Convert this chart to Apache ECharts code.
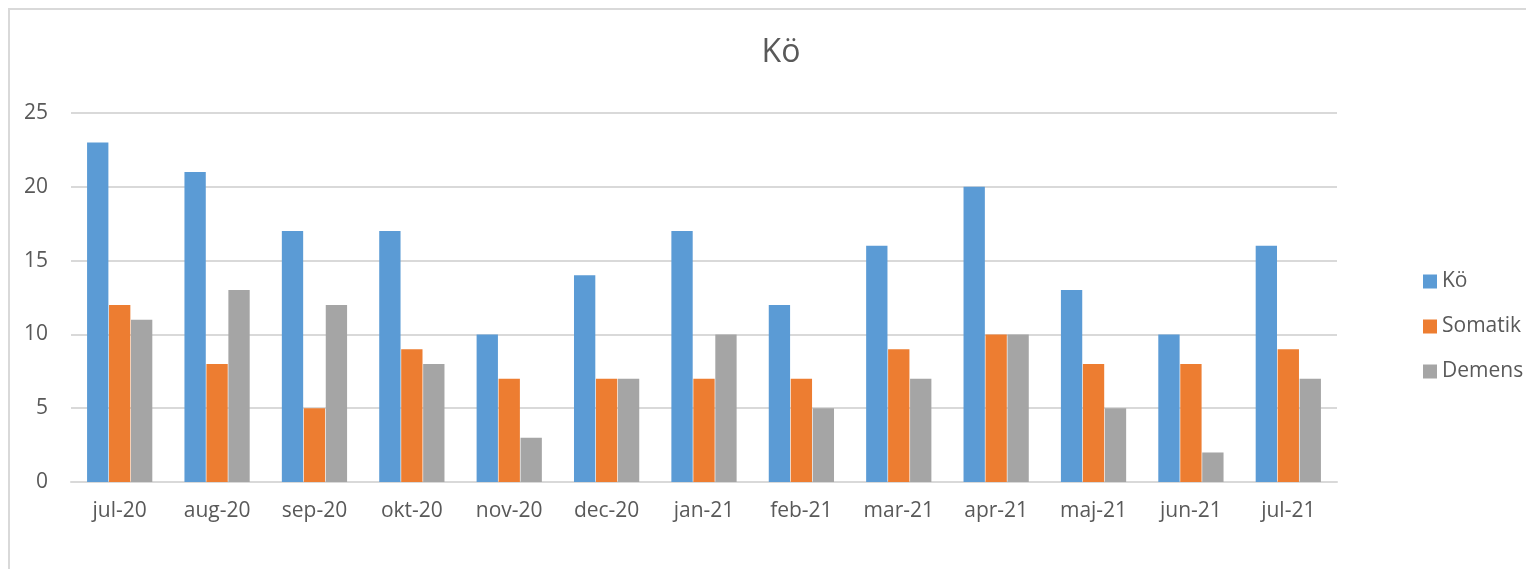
<!DOCTYPE html>
<html>
<head>
<meta charset="utf-8">
<script src="https://cdn.jsdelivr.net/npm/echarts@6/dist/echarts.min.js"></script>
<style>
  html, body { margin: 0; padding: 0; background: #fff; }
  #diagram { width: 1526px; height: 569px; }
</style>
</head>
<body>
<div id="diagram"></div>
<script>
var months = ["jul-20", "aug-20", "sep-20", "okt-20", "nov-20", "dec-20", "jan-21",
  "feb-21", "mar-21", "apr-21", "maj-21", "jun-21", "jul-21"];
var ko = [23, 21, 17, 17, 10, 14, 17, 12, 16, 20, 13, 10, 16];
var somatik = [12, 8, 5, 9, 7, 7, 7, 7, 9, 10, 8, 8, 9];
var demens = [11, 13, 12, 8, 3, 7, 10, 5, 7, 10, 5, 2, 7];

var font = "Open Sans";
var myChart = echarts.init(document.getElementById("diagram"));
var option = {
  color: ["#5B9BD5", "#ED7D31", "#A5A5A5"],
  textStyle: { fontFamily: font },
  graphic: [{
    type: "rect",
    shape: { x: 9, y: 9, width: 1540, height: 580 },
    style: { fill: "none", stroke: "#d9d9d9", lineWidth: 2 }
  }],
  title: {
    text: "Kö",
    left: 776,
    top: 32,
    textAlign: "center",
    textStyle: { fontFamily: font, fontSize: 32, fontWeight: "normal", color: "#595959" }
  },
  legend: {
    orient: "vertical",
    left: 1418,
    top: 266,
    itemWidth: 14,
    itemHeight: 14,
    itemGap: 24,
    icon: "rect",
    textStyle: { fontFamily: font, fontSize: 21, color: "#595959" },
    data: ["Kö", "Somatik", "Demens"]
  },
  grid: { left: 71, right: 189, top: 113, bottom: 87 },
  xAxis: {
    type: "category",
    data: months,
    axisTick: { show: false },
    axisLine: { lineStyle: { color: "#d9d9d9", width: 2 } },
    axisLabel: { fontFamily: font, fontSize: 21, color: "#595959", margin: 19 }
  },
  yAxis: {
    type: "value",
    min: 0,
    max: 25,
    interval: 5,
    axisLabel: { fontFamily: font, fontSize: 21, color: "#595959", margin: 23 },
    splitLine: { lineStyle: { color: "#d9d9d9", width: 2 } }
  },
  series: [
    { name: "Kö", type: "bar", data: ko, barGap: "3%", barCategoryGap: "33%" },
    { name: "Somatik", type: "bar", data: somatik },
    { name: "Demens", type: "bar", data: demens }
  ]
};
myChart.setOption(option);
</script>
</body>
</html>
